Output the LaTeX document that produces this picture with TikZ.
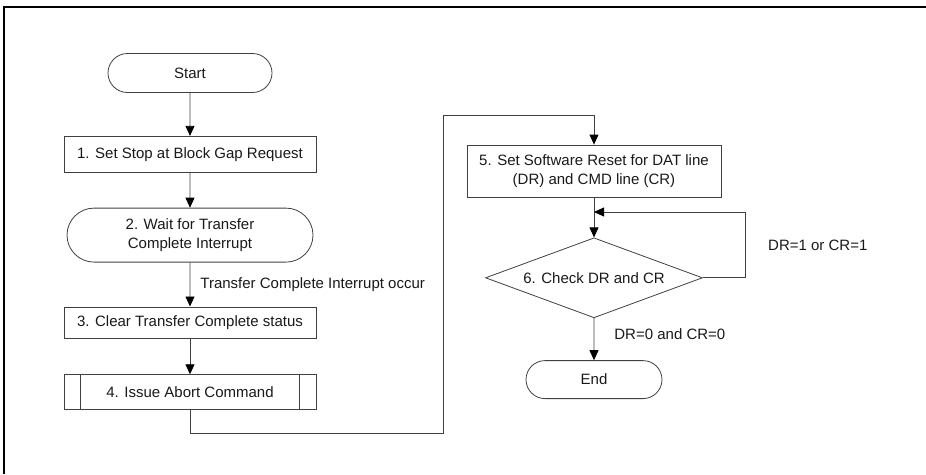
\documentclass[tikz,border=0pt]{standalone}
\usepackage{fontspec}
\setmainfont{Liberation Sans}
\usetikzlibrary{positioning,arrows.meta,shapes.misc,shapes.geometric}

\begin{document}
\begin{tikzpicture}[x=1pt, y=-1pt,
  font=\fontsize{15}{19}\selectfont, text=black!90,
  box/.style={draw=black!75, line width=0.8pt, minimum width=252pt, minimum height=34pt,
              text centered, align=center, inner sep=3pt},
  term/.style={draw=black!75, line width=0.8pt, rounded rectangle, minimum height=39pt,
               text centered, align=center, inner sep=3pt},
  decide/.style={draw=black!75, line width=0.8pt, diamond, minimum width=217pt,
                 minimum height=80pt, aspect=2.7, inner sep=0pt},
  arr/.style={-{Triangle[length=10pt,width=9pt,color=black]}, line width=0.8pt, draw=black!75},
  lnk/.style={line width=0.8pt, draw=black!75},
  lbl/.style={inner sep=0pt, anchor=west},
  node distance=40pt
]
\useasboundingbox (0,0) rectangle (926,474);

%% Frame
\draw[line width=1.2pt] (4,474) |- (926,7);

%% Left column (steps 1-4)
\node[term, minimum width=170pt] (nstart) at (190,73) {Start};
\node[box, minimum height=36pt, below=43pt of nstart] (ns1) {1. Set Stop at Block Gap Request};
\node[term, minimum width=252pt, minimum height=54pt, below=35pt of ns1] (ns2)
  {2. Wait for Transfer\\Complete Interrupt};
\node[box, minimum height=31pt, below=44pt of ns2] (ns3) {3. Clear Transfer Complete status};
\node[box, minimum height=35pt, below=36pt of ns3] (ns4) {4. Issue Abort Command};
\draw[lnk] ([xshift=17pt]ns4.north west) -- ([xshift=17pt]ns4.south west);
\draw[lnk] ([xshift=-17pt]ns4.north east) -- ([xshift=-17pt]ns4.south east);

\draw[arr] (nstart) -- (ns1);
\draw[arr] (ns1) -- (ns2);
\draw[arr] (ns2) -- node[lbl, xshift=10pt] (nocc) {Transfer Complete Interrupt occur} (ns3);
\draw[arr] (ns3) -- (ns4);

%% Right column (steps 5-6)
\node[box, minimum width=254pt, minimum height=52pt] (ns5) at (594,171)
  {5. Set Software Reset for DAT line\\(DR) and CMD line (CR)};
\node[decide, below=40pt of ns5] (ns6) {6. Check DR and CR};
\node[term, minimum width=142pt, minimum height=38pt, below=42pt of ns6] (nend) {End};

%% Jump from step 4 to step 5
\coordinate (cj1) at (443,433);
\coordinate (cj2) at (443,115);
\draw[arr] (ns4.south) |- (cj1) -- (cj2) -| (ns5.north);

\draw[arr] (ns5) -- (ns6);

%% Poll loop
\coordinate (cl1) at (745,212);
\draw[arr] (ns6.east) -| (cl1) -- (ns5.south |- cl1);
\node[lbl] (nbusy) at (768,245) {DR=1 or CR=1};

\draw[arr] (ns6) -- node[lbl, pos=0.38, xshift=20pt] (ndone) {DR=0 and CR=0} (nend);
\end{tikzpicture}
\end{document}
